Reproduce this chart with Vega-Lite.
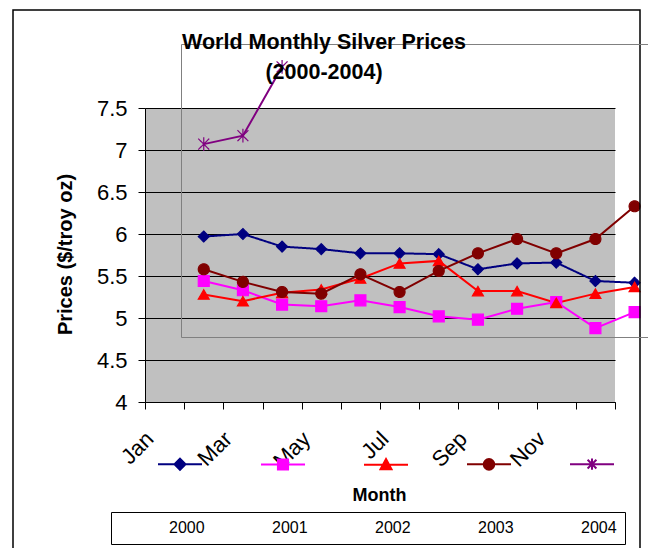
{
  "$schema": "https://vega.github.io/schema/vega-lite/v6.json",
  "autosize": "none",
  "width": 470,
  "height": 294,
  "padding": {"left": 145, "top": 108, "right": 33, "bottom": 146},
  "background": "white",
  "title": {
    "text": ["World Monthly Silver Prices", "(2000-2004)"],
    "font": "Liberation Sans",
    "fontSize": 21.5,
    "fontWeight": "bold",
    "color": "black",
    "anchor": "middle",
    "dx": -56,
    "lineHeight": 30,
    "offset": -74
  },
  "data": {
    "values": [
      {"series": "2000", "m": 1, "price": 5.97},
      {"series": "2000", "m": 2, "price": 6.0},
      {"series": "2000", "m": 3, "price": 5.85},
      {"series": "2000", "m": 4, "price": 5.82},
      {"series": "2000", "m": 5, "price": 5.77},
      {"series": "2000", "m": 6, "price": 5.77},
      {"series": "2000", "m": 7, "price": 5.76},
      {"series": "2000", "m": 8, "price": 5.58},
      {"series": "2000", "m": 9, "price": 5.65},
      {"series": "2000", "m": 10, "price": 5.66},
      {"series": "2000", "m": 11, "price": 5.44},
      {"series": "2000", "m": 12, "price": 5.42},
      {"series": "2001", "m": 1, "price": 5.44},
      {"series": "2001", "m": 2, "price": 5.33},
      {"series": "2001", "m": 3, "price": 5.16},
      {"series": "2001", "m": 4, "price": 5.14},
      {"series": "2001", "m": 5, "price": 5.21},
      {"series": "2001", "m": 6, "price": 5.13},
      {"series": "2001", "m": 7, "price": 5.02},
      {"series": "2001", "m": 8, "price": 4.98},
      {"series": "2001", "m": 9, "price": 5.11},
      {"series": "2001", "m": 10, "price": 5.19},
      {"series": "2001", "m": 11, "price": 4.88},
      {"series": "2001", "m": 12, "price": 5.07},
      {"series": "2002", "m": 1, "price": 5.28},
      {"series": "2002", "m": 2, "price": 5.2},
      {"series": "2002", "m": 3, "price": 5.3},
      {"series": "2002", "m": 4, "price": 5.34},
      {"series": "2002", "m": 5, "price": 5.47},
      {"series": "2002", "m": 6, "price": 5.65},
      {"series": "2002", "m": 7, "price": 5.68},
      {"series": "2002", "m": 8, "price": 5.32},
      {"series": "2002", "m": 9, "price": 5.32},
      {"series": "2002", "m": 10, "price": 5.18},
      {"series": "2002", "m": 11, "price": 5.29},
      {"series": "2002", "m": 12, "price": 5.37},
      {"series": "2003", "m": 1, "price": 5.58},
      {"series": "2003", "m": 2, "price": 5.43},
      {"series": "2003", "m": 3, "price": 5.31},
      {"series": "2003", "m": 4, "price": 5.29},
      {"series": "2003", "m": 5, "price": 5.52},
      {"series": "2003", "m": 6, "price": 5.31},
      {"series": "2003", "m": 7, "price": 5.56},
      {"series": "2003", "m": 8, "price": 5.77},
      {"series": "2003", "m": 9, "price": 5.94},
      {"series": "2003", "m": 10, "price": 5.77},
      {"series": "2003", "m": 11, "price": 5.94},
      {"series": "2003", "m": 12, "price": 6.33},
      {"series": "2004", "m": 1, "price": 7.07},
      {"series": "2004", "m": 2, "price": 7.17},
      {"series": "2004", "m": 3, "price": 7.99}
    ]
  },
  "encoding": {
    "x": {
      "field": "m",
      "type": "quantitative",
      "scale": {"domain": [-0.5, 11.5], "nice": false, "zero": false},
      "axis": {
        "title": "Month",
        "values": [-0.5, 0, 0.5, 1, 1.5, 2, 2.5, 3, 3.5, 4, 4.5, 5, 5.5, 6, 6.5, 7, 7.5, 8, 8.5, 9, 9.5, 10, 10.5, 11, 11.5],
        "labelExpr": "datum.value >= 0 && datum.value % 2 == 0 ? ['Jan','Mar','May','Jul','Sep','Nov'][datum.value / 2] : ''",
        "labelAngle": -45,
        "labelAlign": "right",
        "labelBaseline": "middle",
        "labelFont": "Liberation Sans",
        "labelFontSize": 22,
        "labelColor": "black",
        "labelOffset": -15,
        "labelPadding": 26,
        "labelOverlap": false,
        "labelBound": false,
        "labelFlush": false,
        "tickSize": 7,
        "tickColor": "black",
        "tickWidth": 1,
        "tickOpacity": {"condition": {"test": "datum.value % 1 == 0", "value": 0}, "value": 1},
        "domainColor": "black",
        "domainWidth": 1,
        "grid": false,
        "titleFont": "Liberation Sans",
        "titleFontSize": 18,
        "titleFontWeight": "bold",
        "titleColor": "black",
        "titleX": 234,
        "titleY": 98,
        "titleAlign": "center",
        "titleBaseline": "alphabetic"
      }
    },
    "y": {
      "field": "price",
      "type": "quantitative",
      "scale": {"domain": [4, 7.5], "nice": false, "zero": false},
      "axis": {
        "title": "Prices ($/troy oz)",
        "values": [4, 4.5, 5, 5.5, 6, 6.5, 7, 7.5],
        "format": "~g",
        "labelFont": "Liberation Sans",
        "labelFontSize": 22,
        "labelColor": "black",
        "labelPadding": 11,
        "tickSize": 7,
        "tickColor": "black",
        "domainColor": "black",
        "grid": true,
        "gridColor": "black",
        "gridOpacity": 1,
        "gridWidth": 1,
        "titleFont": "Liberation Sans",
        "titleFontSize": 20,
        "titleFontWeight": "bold",
        "titleColor": "black",
        "titleAngle": -90,
        "titleX": -80,
        "titleY": 146,
        "titleAlign": "center",
        "titleBaseline": "middle"
      }
    },
    "color": {
      "field": "series",
      "type": "nominal",
      "scale": {
        "domain": ["2000", "2001", "2002", "2003", "2004"],
        "range": ["#000080", "#FF00FF", "#FF0000", "#800000", "#800080"]
      },
      "legend": {
        "orient": "none",
        "legendX": 12,
        "legendY": 333,
        "direction": "horizontal",
        "columns": 5,
        "title": null,
        "labelExpr": "''",
        "labelOffset": 0,
        "columnPadding": 51,
        "padding": 0,
        "symbolSize": 1936,
        "symbolStrokeWidth": 2,
        "encode": {
          "symbols": {
            "update": {
              "shape": {"signal": "datum.value == '2000' ? 'M-1,0H1M0,-0.25L0.25,0L0,0.25L-0.25,0Z' : datum.value == '2001' ? 'M-1,0H1M-0.23,-0.23H0.23V0.23H-0.23Z' : datum.value == '2002' ? 'M-1,0H1M0,-0.26L0.25,0.2L-0.25,0.2Z' : datum.value == '2003' ? 'M-1,0H1M0.24,0A0.24,0.24,0,1,1,-0.24,0A0.24,0.24,0,1,1,0.24,0Z' : 'M-1,0H1M-0.2,-0.2L0.2,0.2M-0.2,0.2L0.2,-0.2M0,-0.26L0,0.26'"},
              "fill": {"signal": "scale('color', datum.value)"},
              "stroke": {"signal": "scale('color', datum.value)"},
              "strokeWidth": {"value": 2},
              "opacity": {"value": 1},
              "fillOpacity": {"value": 1}
            }
          }
        }
      }
    }
  },
  "layer": [
    {
      "mark": {"type": "line", "strokeWidth": 2, "clip": false},
      "encoding": {
        "strokeDash": {
          "field": "series",
          "type": "nominal",
          "scale": {"domain": ["2000"], "range": [[1, 0]]},
          "legend": {
            "orient": "none",
            "legendX": -132,
            "legendY": -98,
            "title": null,
            "symbolOpacity": 0,
            "symbolSize": 1,
            "labelExpr": "''",
            "labelFontSize": 1,
            "labelOffset": 0,
            "padding": 312,
            "strokeColor": "black",
            "encode": {"legend": {"update": {"strokeWidth": {"value": 1.5}}}}
          }
        }
      }
    },
    {
      "mark": {"type": "point", "filled": true, "size": 120, "strokeWidth": 1.2, "opacity": 1, "clip": false},
      "encoding": {
        "shape": {
          "field": "series",
          "type": "nominal",
          "scale": {"range": ["diamond", "square", "triangle-up", "circle", "M-1,-1L1,1M-1,1L1,-1M0,-1.25L0,1.25"]},
          "legend": {
            "orient": "none",
            "legendX": -34,
            "legendY": 404,
            "direction": "horizontal",
            "columns": 5,
            "title": null,
            "symbolOpacity": 0,
            "symbolSize": 100,
            "symbolStrokeWidth": 0,
            "labelOffset": 34,
            "columnPadding": 17,
            "padding": 8,
            "strokeColor": "black",
            "labelFont": "Liberation Sans",
            "labelFontSize": 16,
            "labelColor": "black",
            "labelLimit": 0
          }
        },
        "strokeDash": {
          "field": "series",
          "type": "nominal",
          "scale": {"domain": ["2000", "2001", "2002", "2003", "2004"], "range": [[1, 0], [1, 0], [1, 0], [1, 0], [1, 0]]},
          "legend": {
            "orient": "none",
            "legendX": 36,
            "legendY": -64,
            "direction": "horizontal",
            "columns": 5,
            "title": null,
            "symbolOpacity": 0,
            "symbolSize": 400,
            "labelExpr": "''",
            "labelFontSize": 1,
            "labelOffset": 0,
            "columnPadding": 30,
            "padding": 136,
            "strokeColor": "#808080",
            "encode": {"legend": {"update": {"strokeWidth": {"value": 2}}}}
          }
        },
        "stroke": {
          "field": "series",
          "type": "nominal",
          "scale": {
            "domain": ["2000", "2001", "2002", "2003", "2004"],
            "range": ["#000080", "#FF00FF", "#FF0000", "#800000", "#800080"]
          },
          "legend": null
        }
      }
    }
  ],
  "resolve": {"scale": {"strokeDash": "independent"}},
  "config": {
    "view": {"stroke": null, "fill": "#C0C0C0"},
    "font": "Liberation Sans"
  }
}
